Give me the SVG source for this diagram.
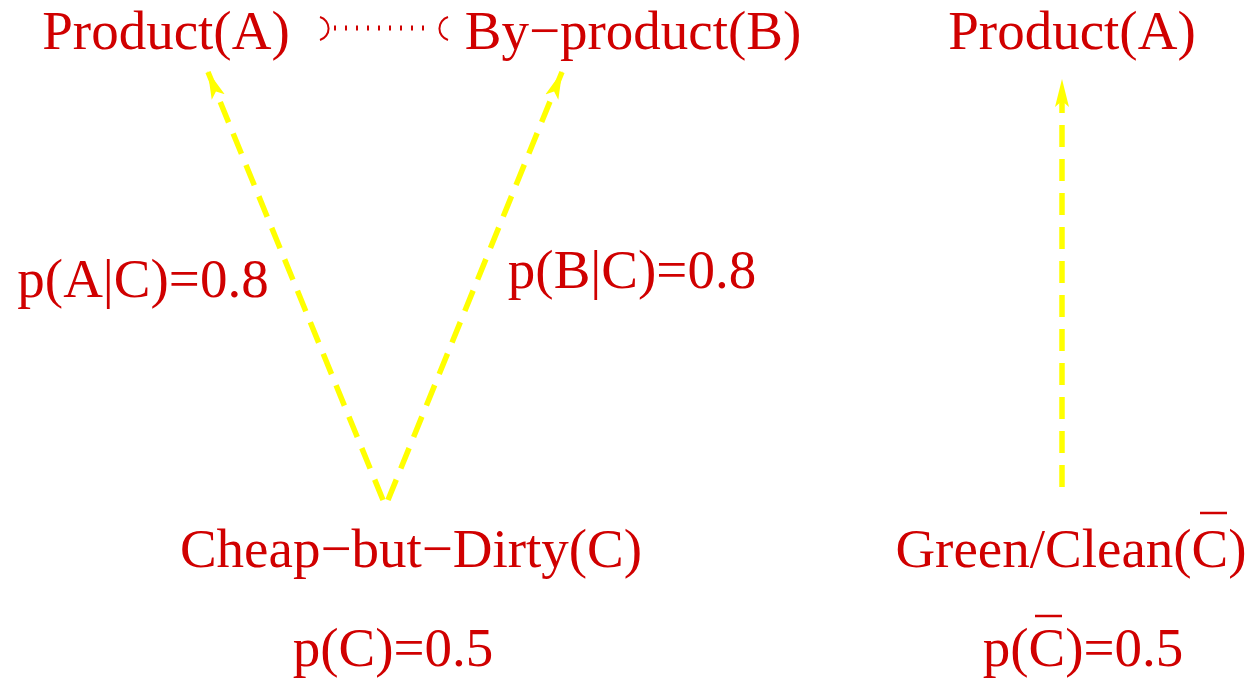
<svg xmlns="http://www.w3.org/2000/svg" width="1250" height="681" viewBox="0 0 1250 681">
<style>
text{font-family:"Liberation Serif","Times New Roman",serif;font-size:55px;fill:#d00000;text-anchor:middle}
.dash{stroke:#ffff00;stroke-width:5.5;fill:none;stroke-dasharray:22 12}
.bar{stroke:#d00000;stroke-width:2.5}
</style>
<defs>
<marker id="ah" viewBox="0 0 28 18" refX="27" refY="9" markerWidth="28" markerHeight="18" markerUnits="userSpaceOnUse" orient="auto">
<path d="M0,2 L28,9 L0,16 L6,9 Z" fill="#ffff00"/>
</marker>
</defs>
<g id="connectors">
<path class="dash" d="M383,500 L208,72" marker-end="url(#ah)"/>
<path class="dash" d="M388,500 L562,72" marker-end="url(#ah)"/>
<path class="dash" d="M1062,487 L1062,80" marker-end="url(#ah)"/>
<g id="dotted">
<path d="M334,28 L432,28" stroke="#d00000" stroke-width="5" stroke-dasharray="2 9" fill="none"/>
<path d="M320,17 A12,12 0 0 1 320,40" stroke="#d00000" stroke-width="2" fill="none"/>
<path d="M448,17 A12,12 0 0 0 448,40" stroke="#d00000" stroke-width="2" fill="none"/>
</g>
</g>
<g id="nodeA"><text x="166" y="49">Product(A)</text></g>
<g id="nodeB"><text x="633" y="49">By−product(B)</text></g>
<g id="nodeA2"><text x="1072" y="49">Product(A)</text></g>
<g id="labelAC"><text x="143" y="297">p(A|C)=0.8</text></g>
<g id="labelBC"><text x="632" y="288">p(B|C)=0.8</text></g>
<g id="nodeC"><text x="411" y="567">Cheap−but−Dirty(C)</text></g>
<g id="nodeCbar"><text x="1071" y="567">Green/Clean(C)</text><line class="bar" x1="1200" y1="513" x2="1227" y2="513"/></g>
<g id="pC"><text x="393" y="666">p(C)=0.5</text></g>
<g id="pCbar"><text x="1083" y="666">p(C)=0.5</text><line class="bar" x1="1035" y1="616" x2="1062" y2="616"/></g>
</svg>
